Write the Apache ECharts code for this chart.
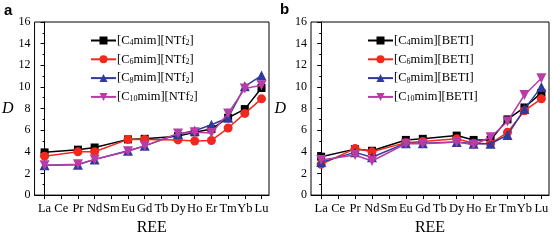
<!DOCTYPE html>
<html>
<head>
<meta charset="utf-8">
<script src="https://cdn.jsdelivr.net/npm/echarts@6/dist/echarts.min.js"></script>
<style>html,body{margin:0;padding:0;background:#fff}#c{width:553px;height:241px}</style>
</head>
<body>
<div id="c"></div>
<script>
var categories = ['La','Ce','Pr','Nd','Sm','Eu','Gd','Tb','Dy','Ho','Er','Tm','Yb','Lu'];
var yTicks = [0,2,4,6,8,10,12,14,16];
// Panel a: [CnMIM][NTf2]
var a_C4  = [3.95,null,4.2,4.4,null,5.15,5.2,null,5.45,5.8,6.1,7.15,7.95,9.9];
var a_C6  = [3.6,null,4.0,4.0,null,5.15,5.15,null,5.1,5.0,5.05,6.2,7.55,8.9];
var a_C8  = [2.75,null,2.8,3.3,null,4.1,4.55,null,5.65,5.95,6.5,7.15,10.05,11.05];
var a_C10 = [2.75,null,2.85,3.3,null,4.05,4.55,null,5.7,5.8,5.75,7.55,9.85,10.15];
// Panel b: [CnMIM][BETI]
var b_C4  = [3.55,null,4.25,4.1,null,5.1,5.2,null,5.5,5.1,5.1,7.0,8.1,9.45];
var b_C6  = [2.85,null,4.3,4.0,null,4.85,4.95,null,5.2,4.8,4.75,5.8,7.8,8.9];
var b_C8  = [3.05,null,3.95,3.5,null,4.8,4.8,null,4.9,4.75,4.75,5.55,7.95,10.0];
var b_C10 = [3.25,null,3.7,3.15,null,4.75,4.75,null,4.9,4.65,5.35,6.8,9.25,10.8];

var namesA = ['[C4mim][NTf2]','[C6mim][NTf2]','[C8mim][NTf2]','[C10mim][NTf2]'];
var namesB = ['[C4mim][BETI]','[C6mim][BETI]','[C8mim][BETI]','[C10mim][BETI]'];
var colors = ['#000000','#f2281e','#2f3a9c','#b83ca6'];
var symbols = ['rect','circle','triangle','triangle'];
var symSizes = [8,9,10,10];
var symRot = [0,0,0,180];

function pairs(arr){var o=[];for(var i=0;i<arr.length;i++){if(arr[i]!=null)o.push([i,arr[i]]);}return o;}
var idx = categories.map(function(_,i){return i;});
var serif = 'Liberation Serif';

function xAx(g){return {type:'value',gridIndex:g,min:-0.6,max:13.45,
  axisLine:{show:true,lineStyle:{color:'#000',width:1}},
  axisTick:{show:true,customValues:idx,length:4,lineStyle:{color:'#000'}},
  axisLabel:{show:true,customValues:idx,formatter:function(v){return categories[Math.round(v)];},color:'#000',fontFamily:serif,fontSize:12.5,margin:7},
  splitLine:{show:false},
  name:'REE',nameLocation:'middle',nameGap:22,nameTextStyle:{fontFamily:serif,fontSize:16,color:'#000'}};}
function yAx(g,gap){return {type:'value',gridIndex:g,min:0,max:16,interval:2,
  axisLine:{show:true,lineStyle:{color:'#000',width:1}},
  axisTick:{show:true,length:4,lineStyle:{color:'#000'}},
  minorTick:{show:true,splitNumber:2,length:2,lineStyle:{color:'#000'}},
  axisLabel:{color:'#000',fontFamily:serif,fontSize:12,margin:4},
  splitLine:{show:false},
  name:'D',nameLocation:'middle',nameRotate:0,nameGap:gap,nameTextStyle:{fontFamily:serif,fontStyle:'italic',fontSize:16,color:'#000'}};}

var series=[];
[[a_C4,a_C6,a_C8,a_C10],[b_C4,b_C6,b_C8,b_C10]].forEach(function(set,g){
  set.forEach(function(d,k){
    series.push({type:'line',name:(g===0?namesA:namesB)[k],xAxisIndex:g,yAxisIndex:g,data:pairs(d),
      symbol:symbols[k],symbolSize:symSizes[k],symbolRotate:symRot[k],
      lineStyle:{color:colors[k],width:1.5},itemStyle:{color:colors[k]},
      showSymbol:true,animation:false,z:2+k});
  });
});
function fmt(n){return n.replace(/C(\d+)/,'C{s|$1}').replace(/NTf2/,'NTf{s|2}');}
function legend(g,left){return {show:true,orient:'vertical',left:left,top:34,padding:0,itemGap:5.8,itemWidth:25,itemHeight:10,
  data:(g===0?namesA:namesB),formatter:fmt,
  textStyle:{fontFamily:serif,fontSize:12.5,color:'#000',padding:[0,0,0,-4],rich:{s:{fontFamily:serif,fontSize:8,verticalAlign:'bottom',padding:[5,0,0,0]}}}};}

var chart = echarts.init(document.getElementById('c'),null,{renderer:'canvas'});
chart.setOption({
  animation:false,
  backgroundColor:'#fff',
  grid:[{left:32,top:22,width:237,height:178.5,show:true,borderColor:'#000',borderWidth:1,containLabel:false},
        {left:311,top:22,width:238,height:178.5,show:true,borderColor:'#000',borderWidth:1,containLabel:false}],
  xAxis:[xAx(0),xAx(1)],
  yAxis:[yAx(0,21),yAx(1,25)],
  legend:[legend(0,90),legend(1,367)],
  series:series,
  graphic:[
    {type:'text',left:4,top:3,style:{text:'a',font:'bold 15px "Liberation Sans"',fill:'#000'}},
    {type:'text',left:280,top:2,style:{text:'b',font:'bold 15px "Liberation Sans"',fill:'#000'}}
  ]
});
</script>
</body>
</html>
